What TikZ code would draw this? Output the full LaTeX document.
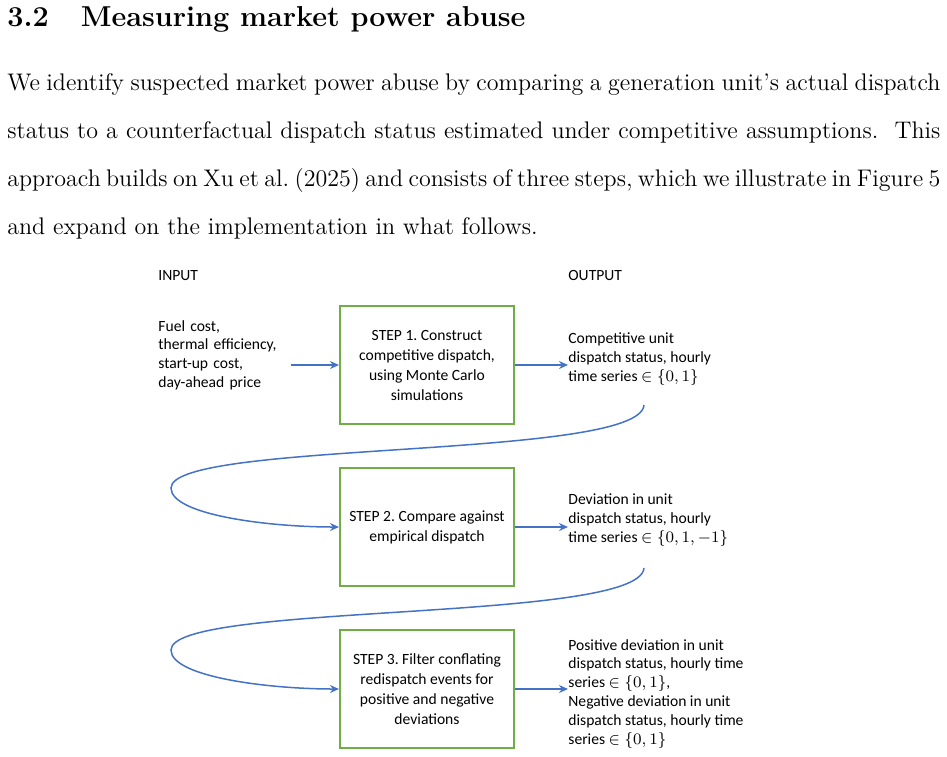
\documentclass[tikz,border=0pt]{standalone}
\usepackage{fontspec}
\usetikzlibrary{arrows.meta}
\newfontfamily\diagfont{Carlito}
\definecolor{arrowblue}{HTML}{4472C4}
\definecolor{boxgreen}{HTML}{70AD47}
\newcommand\fullline[1]{\makebox[466.5pt][s]{#1}}
\begin{document}
\frenchspacing
\begin{tikzpicture}[x=0.5pt,y=-0.5pt,
    txt/.style={inner sep=0pt,font={\diagfont\fontsize{7.8}{9.4}\selectfont},align=left,anchor=base west},
    box/.style={draw=boxgreen,line width=1pt,minimum width=87pt,minimum height=59pt,inner sep=2pt,
        align=center,font={\diagfont\fontsize{7.8}{10}\selectfont}},
    arr/.style={draw=arrowblue,line width=0.75pt,-{Stealth[length=4.5pt,width=4pt]}}]
    \useasboundingbox (0,0) rectangle (947,756);

    % heading and text
    \node[inner sep=0pt,anchor=base west,font={\fontsize{14.4}{18}\bfseries}] (head) at (7,26)
        {3.2\hspace{16pt}Measuring market power abuse};
    \node[inner sep=0pt,anchor=base west,align=left,font={\fontsize{12}{24}\selectfont}] (para) at (7,234) {%
        \fullline{We identify suspected market power abuse by comparing a generation unit's actual dispatch}\\
        \fullline{status to a counterfactual dispatch status estimated under competitive assumptions.\ \ This}\\
        \fullline{approach builds on Xu et al. (2025) and consists of three steps, which we illustrate in Figure 5}\\
        and expand on the implementation in what follows.};

    % columns
    \node[txt] (input) at (158,280) {INPUT};
    \node[txt] (output) at (568,280) {OUTPUT};

    \node[txt,text width=66pt] (in) at (158,331)
        {Fuel cost,\\thermal efficiency,\\start-up cost,\\day-ahead price};

    % steps
    \node[box] (s1) at (427,365) {STEP 1. Construct\\competitive dispatch,\\using Monte Carlo\\simulations};
    \node[box] (s2) at (427,527) {STEP 2. Compare against\\empirical dispatch};
    \node[box] (s3) at (427,689) {STEP 3. Filter conflating\\redispatch events for\\positive and negative\\deviations};

    % outputs
    \node[txt] (out1) at (568,381)
        {Competitive unit\\dispatch status, hourly\\time series $\in\{0,1\}$};
    \node[txt] (out2) at (568,542)
        {Deviation in unit\\dispatch status, hourly\\time series $\in\{0,1,-1\}$};
    \node[txt] (out3) at (568,744)
        {Positive deviation in unit\\dispatch status, hourly time\\series $\in\{0,1\}$,\\Negative deviation in unit\\dispatch status, hourly time\\series $\in\{0,1\}$};

    \coordinate (c1) at (644,405);
    \coordinate (l1) at (171,488);
    \coordinate (c2) at (644,568);
    \coordinate (l2) at (171,650);

    \draw[arr] (in.east |- s1.west) -- (s1.west);
    \draw[arr] (s1.east) -- (s1.east -| out1.west);
    \draw[arr] (s2.east) -- (s2.east -| out2.west);
    \draw[arr] (s3.east) -- (s3.east -| out3.west);

    \draw[arr] (c1) .. controls +(-4,55) and +(0,-48) .. (l1) .. controls +(0,27) and +(-70,0) .. (s2.west);
    \draw[arr] (c2) .. controls +(-4,55) and +(0,-48) .. (l2) .. controls +(0,27) and +(-70,0) .. (s3.west);
\end{tikzpicture}
\end{document}
